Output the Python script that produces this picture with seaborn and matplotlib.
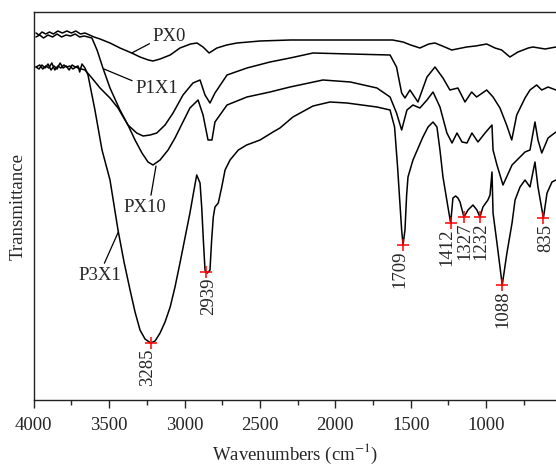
import numpy as np
import pandas as pd
import matplotlib
matplotlib.use('Agg')
import matplotlib.pyplot as plt
from matplotlib.ticker import MultipleLocator
import seaborn as sns

# FTIR spectra (x: position on the wavenumber axis, y: transmittance, arbitrary units)
px0_wn = [3985, 3965, 3945, 3920, 3895, 3870, 3840, 3810, 3780, 3750, 3720, 3690, 3660, 3630,
          3600, 3560, 3494, 3428, 3350, 3295, 3240, 3209, 3162, 3095, 3030, 2960, 2917, 2877,
          2837, 2785, 2720, 2652, 2499, 2300, 2035, 1800, 1620, 1551, 1500, 1439, 1380, 1339,
          1290, 1228, 1129, 1070, 996, 941, 897, 842, 789, 720, 689, 609, 537]
px0_t = [367, 365, 368, 366, 368, 366, 369, 367, 369, 367, 369, 366, 367, 365,
         363, 361, 357, 352, 347, 343, 340, 339, 341, 345, 352, 356, 357, 353,
         347, 352, 355, 357, 359, 360, 360, 360, 360, 358, 355, 352, 356, 357,
         354, 350, 353, 354, 356, 352, 350, 343, 348, 352, 353, 351, 353]

p1x1_wn = [3985, 3960, 3935, 3905, 3875, 3845, 3815, 3785, 3755, 3725, 3695, 3665, 3640, 3614,
           3580, 3541, 3494, 3428, 3375, 3317, 3275, 3228, 3184, 3129, 3076, 3010, 2944, 2897,
           2864, 2831, 2798, 2718, 2586, 2433, 2300, 2148, 1900, 1637, 1594, 1560, 1538, 1505,
           1452, 1392, 1339, 1286, 1240, 1187, 1140, 1096, 1063, 996, 954, 908, 864, 830,
           797, 742, 709, 665, 631, 589, 537]
p1x1_t = [363, 365, 362, 365, 363, 366, 363, 365, 364, 366, 363, 364, 363, 362,
          350, 332, 312, 290, 275, 267, 264, 265, 267, 275, 287, 305, 317, 320,
          305, 297, 307, 325, 332, 338, 342, 347, 346, 345, 333, 307, 302, 310,
          298, 323, 333, 322, 310, 312, 298, 308, 303, 310, 303, 292, 275, 260,
          285, 302, 310, 315, 310, 313, 310]

px10_wn = [3985, 3960, 3940, 3920, 3900, 3880, 3860, 3840, 3820, 3800, 3780, 3760, 3740, 3720,
           3706, 3660, 3614, 3560, 3494, 3441, 3375, 3328, 3282, 3242, 3209, 3162, 3109, 3063,
           3017, 2964, 2910, 2877, 2844, 2818, 2798, 2718, 2586, 2433, 2300, 2082, 1900, 1724,
           1637, 1594, 1560, 1525, 1485, 1439, 1392, 1352, 1306, 1260, 1226, 1193, 1160, 1127,
           1094, 1054, 1007, 961, 954, 928, 888, 828, 775, 742, 709, 676, 656, 631, 589, 537]
px10_t = [333, 335, 331, 334, 332, 337, 330, 334, 332, 335, 333, 334, 331, 333,
          332, 330, 322, 312, 302, 292, 275, 260, 247, 238, 235, 240, 250, 262,
          276, 292, 300, 285, 260, 260, 278, 295, 303, 308, 313, 320, 318, 312,
          303, 287, 270, 290, 295, 292, 300, 308, 293, 267, 257, 267, 258, 257,
          267, 258, 267, 275, 250, 235, 215, 235, 243, 248, 250, 278, 260, 247, 262, 268]

p3x1_wn = [3985, 3965, 3945, 3925, 3905, 3885, 3865, 3845, 3825, 3805, 3785, 3765, 3745, 3725,
           3706, 3695, 3680, 3660, 3640, 3594, 3547, 3494, 3441, 3401, 3361, 3328, 3295, 3262,
           3224, 3195, 3162, 3129, 3095, 3063, 3030, 2997, 2964, 2937, 2919, 2897, 2886, 2875,
           2864, 2857, 2848, 2831, 2820, 2809, 2798, 2776, 2753, 2731, 2698, 2643, 2588, 2499,
           2413, 2367, 2281, 2148, 2035, 1923, 1724, 1637, 1607, 1587, 1573, 1560, 1551, 1538,
           1527, 1518, 1485, 1419, 1385, 1352, 1326, 1306, 1286, 1253, 1235, 1220, 1202, 1187,
           1173, 1147, 1120, 1087, 1061, 1041, 1021, 988, 974, 961, 954, 928, 893, 862,
           828, 808, 775, 742, 709, 676, 656, 620, 596, 563, 537]
p3x1_t = [333, 331, 335, 332, 336, 330, 334, 331, 337, 332, 334, 330, 335, 333,
          334, 328, 336, 332, 325, 290, 250, 220, 170, 138, 110, 88, 70, 61,
          57, 59, 67, 78, 93, 113, 137, 162, 187, 210, 225, 217, 193, 160,
          130, 128, 127, 130, 160, 183, 193, 197, 213, 230, 240, 250, 255, 260,
          268, 272, 283, 294, 298, 297, 293, 290, 273, 233, 200, 170, 155, 170,
          205, 223, 240, 263, 273, 278, 273, 250, 223, 193, 177, 202, 204, 202,
          198, 183, 190, 195, 190, 183, 193, 200, 205, 228, 187, 157, 115, 147,
          177, 200, 213, 220, 213, 238, 213, 182, 207, 218, 220]

# labelled absorption peaks on P3X1
peak_labels = ['3285', '2939', '1709', '1412', '1327', '1232', '1088', '835']
peak_wn = [3224, 2857, 1551, 1235, 1147, 1041, 893, 620]
peak_t = [57, 128, 155, 177, 183, 183, 115, 182]
# small sideways nudges (points) so the crowded labels sit as in the original
peak_dx = [-2.5, 2, -2, -2.5, 0.8, 0.8, 0.5, 2]

sns.set_style('ticks')
plt.rcParams['font.family'] = ['Liberation Serif', 'DejaVu Serif']
plt.rcParams['mathtext.fontset'] = 'stix'
plt.rcParams['font.size'] = 13.5

fig = plt.figure(figsize=(5.56, 4.66), dpi=100)
ax = fig.add_axes([33.7 / 556, 66 / 466, (556 - 33.7) / 556, 388 / 466])

for wn, t in [(px0_wn, px0_t), (p1x1_wn, p1x1_t), (px10_wn, px10_t), (p3x1_wn, p3x1_t)]:
    sns.lineplot(x=wn, y=t, sort=False, estimator=None, color='black', lw=1.1, ax=ax)

ax.plot(peak_wn, peak_t, '+', color='red', ms=8, mew=1.1)
for lab, x, y, dx in zip(peak_labels, peak_wn, peak_t, peak_dx):
    ax.annotate(lab, (x, y), xytext=(dx, -4), textcoords='offset points',
                rotation=90, ha='center', va='top')

# curve names with leader lines
line_kw = dict(arrowstyle='-', color='black', lw=0.9, shrinkA=0, shrinkB=0)
ax.annotate('PX0', xy=(3350, 347), xytext=(3100, 364), ha='center', va='center',
            arrowprops=dict(relpos=(0, 0.15), **line_kw))
ax.annotate('P1X1', xy=(3534, 331), xytext=(3184, 312), ha='center', va='center',
            arrowprops=dict(relpos=(0, 0.85), **line_kw))
ax.annotate('PX10', xy=(3189, 234), xytext=(3262, 193), ha='center', va='center',
            arrowprops=dict(relpos=(0.62, 0.9), **line_kw))
ax.annotate('P3X1', xy=(3439, 168), xytext=(3560, 125), ha='center', va='center',
            arrowprops=dict(relpos=(0.55, 0.9), **line_kw))

ax.set_xlim(4000, 536.5)
ax.set_ylim(0, 388)
ax.set_yticks([])
ax.xaxis.set_major_locator(MultipleLocator(500))
ax.xaxis.set_minor_locator(MultipleLocator(250))
ax.tick_params(axis='x', which='major', direction='out', length=6, width=1, pad=6, top=False)
ax.tick_params(axis='x', which='minor', direction='out', length=3.5, width=1, top=False)
ax.spines['right'].set_visible(False)
for s in ['left', 'top', 'bottom']:
    ax.spines[s].set_linewidth(1.0)
    ax.spines[s].set_color('#222222')

ax.set_xlabel('Wavenumbers (cm$^{-1}$)', labelpad=6)
ax.set_ylabel('Transmittance', labelpad=5)

fig.savefig('out.png', dpi=100)
